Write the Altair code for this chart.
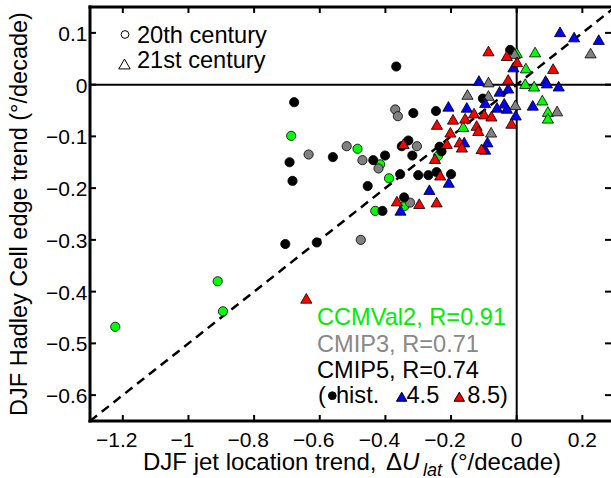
import altair as alt
import pandas as pd

# ---------------- data ----------------
# CCMVal2 (green) 20th-century circles
ccm_c_x = [-1.223, -0.911, -0.895, -0.687, -0.485, -0.416, -0.389, -0.431, -0.343, -0.240]
ccm_c_y = [-0.468, -0.380, -0.438, -0.099, -0.124, -0.154, -0.181, -0.244, -0.235, -0.138]
# CMIP3 (gray) 20th-century circles
cm3_c_x = [-0.634, -0.518, -0.470, -0.421, -0.370, -0.362, -0.304, -0.325, -0.475]
cm3_c_y = [-0.135, -0.119, -0.146, -0.162, -0.048, -0.061, -0.119, -0.228, -0.300]
# CMIP5 historical (black) circles
cm5_h_x = [-0.678, -0.692, -0.683, -0.705, -0.609, -0.367, -0.020, -0.103, -0.315, -0.246,
           -0.330, -0.350, -0.560, -0.401, -0.437, -0.318, -0.235, -0.229, -0.355, -0.300,
           -0.269, -0.244, -0.200, -0.454, -0.343, -0.409]
cm5_h_y = [-0.034, -0.150, -0.186, -0.308, -0.305, 0.035, 0.067, -0.027, -0.055, -0.051,
           -0.108, -0.119, -0.140, -0.137, -0.146, -0.137, -0.120, -0.129, -0.173, -0.175,
           -0.175, -0.169, -0.173, -0.196, -0.218, -0.244]
# CCMVal2 (green) 21st-century triangles
ccm_t_x = [0.000, 0.056, 0.028, 0.026, 0.053, 0.078, 0.095, 0.095, -0.163]
ccm_t_y = [0.062, 0.063, 0.032, 0.002, -0.003, -0.030, -0.052, -0.065, -0.081]
# CMIP3 (gray) 21st-century triangles
cm3_t_x = [-0.006, 0.225, -0.086, -0.150, -0.086, -0.004, 0.123, -0.078]
cm3_t_y = [0.060, 0.061, 0.005, -0.019, -0.021, -0.039, -0.051, -0.092]
# CMIP5 RCP4.5 (blue) triangles
rcp45_x = [0.132, 0.175, 0.250, -0.010, -0.115, 0.088, 0.092, 0.128, -0.052, -0.026,
           -0.208, -0.152, -0.096, -0.060, -0.038, -0.030, -0.003, 0.049, -0.160, -0.089,
           -0.096, -0.207, -0.266, -0.354]
rcp45_y = [0.102, 0.092, 0.087, 0.034, 0.008, 0.008, 0.003, -0.003, -0.013, -0.007,
           -0.042, -0.044, -0.035, -0.044, -0.036, -0.046, -0.059, -0.040, -0.111, -0.111,
           -0.125, -0.189, -0.203, -0.243]
# CMIP5 RCP8.5 (red) triangles
rcp85_x = [-0.086, -0.030, 0.001, 0.111, -0.026, -0.243, -0.194, -0.157, -0.130, -0.099,
           -0.077, -0.016, -0.202, -0.122, -0.117, -0.213, -0.174, -0.167, -0.107, -0.345,
           -0.249, -0.233, -0.365, -0.297, -0.244, -0.641]
rcp85_y = [0.065, 0.056, 0.044, 0.031, 0.010, -0.077, -0.067, -0.065, -0.055, -0.057,
           -0.061, -0.075, -0.092, -0.079, -0.089, -0.114, -0.111, -0.121, -0.124, -0.114,
           -0.143, -0.175, -0.225, -0.230, -0.227, -0.413]

# reference line (slope 0.5)
line_x = [-1.3, 0.3]
line_y = [-0.65, 0.15]

x_ticks = [-1.2, -1.0, -0.8, -0.6, -0.4, -0.2, 0.0, 0.2]
x_tick_labels = ["\u22121.2", "\u22121", "\u22120.8", "\u22120.6", "\u22120.4", "\u22120.2", "0", "0.2"]
y_ticks = [-0.6, -0.5, -0.4, -0.3, -0.2, -0.1, 0.0, 0.1]
y_tick_labels = ["\u22120.6", "\u22120.5", "\u22120.4", "\u22120.3", "\u22120.2", "\u22120.1", "0", "0.1"]

# ---------------- layout / style ----------------
W, H = 521, 414
FONT = "Liberation Sans"
GREEN, GRAY, BLUE, RED = "#00ff00", "#808080", "#0000ff", "#ff0000"
xs = alt.Scale(domain=[-1.3, 0.2873], nice=False, zero=False)
ys = alt.Scale(domain=[-0.65, 0.15], nice=False, zero=False)
one = pd.DataFrame({"a": [0]})
LS = 23.6   # legend text size
TS_ = 24    # axis title size


def points(xv, yv, shape, color, size):
    df = pd.DataFrame({"x": xv, "y": yv})
    return alt.Chart(df).mark_point(
        shape=shape, filled=True, color=color, stroke="black", strokeWidth=0.8,
        size=size, opacity=1
    ).encode(x=alt.X("x:Q", scale=xs, axis=None), y=alt.Y("y:Q", scale=ys, axis=None))


def text(s, x, y, color="black", size=LS, style="normal", align="left"):
    return alt.Chart(one).mark_text(
        text=s, align=align, baseline="alphabetic", font=FONT, fontSize=size,
        fontStyle=style, color=color
    ).encode(x=alt.value(x), y=alt.value(y))


def symbol(shape, x, y, size, fill, filled=True):
    kw = dict(shape=shape, size=size, stroke="black", strokeWidth=1, opacity=1)
    if filled:
        kw.update(filled=True, fill=fill)
    else:
        kw.update(filled=False, fill="white", fillOpacity=1)
    return alt.Chart(one).mark_point(**kw).encode(x=alt.value(x), y=alt.value(y))


xt = pd.DataFrame({"t": x_ticks, "lab": x_tick_labels})
yt = pd.DataFrame({"t": y_ticks, "lab": y_tick_labels})

tick_bottom = alt.Chart(xt).mark_rule(color="black", strokeWidth=2).encode(
    x=alt.X("t:Q", scale=xs, axis=None), y=alt.value(H), y2=alt.value(H - 6))
tick_top = alt.Chart(xt).mark_rule(color="black", strokeWidth=2).encode(
    x=alt.X("t:Q", scale=xs, axis=None), y=alt.value(0), y2=alt.value(6))
tick_left = alt.Chart(yt).mark_rule(color="black", strokeWidth=2).encode(
    y=alt.Y("t:Q", scale=ys, axis=None), x=alt.value(0), x2=alt.value(6))
tick_right = alt.Chart(yt).mark_rule(color="black", strokeWidth=2).encode(
    y=alt.Y("t:Q", scale=ys, axis=None), x=alt.value(W - 6), x2=alt.value(W))

# tick labels (negative ones: digits centred on the tick, minus sign hanging left)
xlab_neg = alt.Chart(xt).transform_filter("datum.t < 0").mark_text(
    align="center", baseline="alphabetic", font=FONT, fontSize=21, color="black", dx=-6
).encode(x=alt.X("t:Q", scale=xs, axis=None), y=alt.value(H + 26), text="lab:N")
xlab_pos = alt.Chart(xt).transform_filter("datum.t >= 0").mark_text(
    align="center", baseline="alphabetic", font=FONT, fontSize=21, color="black"
).encode(x=alt.X("t:Q", scale=xs, axis=None), y=alt.value(H + 26), text="lab:N")
ylab = alt.Chart(yt).mark_text(
    align="right", baseline="alphabetic", font=FONT, fontSize=21, color="black", dy=8
).encode(y=alt.Y("t:Q", scale=ys, axis=None), x=alt.value(-2.5), text="lab:N")

zero_df = pd.DataFrame({"z": [0.0]})
zero_v = alt.Chart(zero_df).mark_rule(color="black", strokeWidth=2).encode(
    x=alt.X("z:Q", scale=xs, axis=None))
zero_h = alt.Chart(zero_df).mark_rule(color="black", strokeWidth=2).encode(
    y=alt.Y("z:Q", scale=ys, axis=None))

dash = alt.Chart(pd.DataFrame({"x": line_x, "y": line_y})).mark_line(
    color="black", strokeWidth=2.5, strokeDash=[9, 6], clip=True
).encode(x=alt.X("x:Q", scale=xs, axis=None), y=alt.Y("y:Q", scale=ys, axis=None))

frame_left = alt.Chart(one).mark_rule(color="black", strokeWidth=3).encode(
    x=alt.value(0), y=alt.value(-1.5), y2=alt.value(H + 1.5))
frame_top = alt.Chart(one).mark_rule(color="black", strokeWidth=3).encode(
    x=alt.value(-1.5), x2=alt.value(W), y=alt.value(0))
frame_bottom = alt.Chart(one).mark_rule(color="black", strokeWidth=3).encode(
    x=alt.value(-1.5), x2=alt.value(W), y=alt.value(H))

CS, TS = 85, 125
layers = [
    zero_v, zero_h, dash,
    points(ccm_c_x, ccm_c_y, "circle", GREEN, CS),
    points(cm3_c_x, cm3_c_y, "circle", GRAY, CS),
    points(cm5_h_x, cm5_h_y, "circle", "black", CS),
    points(ccm_t_x, ccm_t_y, "triangle-up", GREEN, TS),
    points(cm3_t_x, cm3_t_y, "triangle-up", GRAY, TS),
    points(rcp45_x, rcp45_y, "triangle-up", BLUE, TS),
    points(rcp85_x, rcp85_y, "triangle-up", RED, TS),
    tick_bottom, tick_top, tick_left, tick_right,
    frame_left, frame_top, frame_bottom,
    xlab_neg, xlab_pos, ylab,
    # top-left legend
    symbol("circle", 35, 27.5, 60, None, filled=False),
    text("20th century", 47, 35.7),
    symbol("triangle-up", 34.5, 57, 130, None, filled=False),
    text("21st century", 47, 61.3),
    # bottom legend
    text("CCMVal2, R=0.91", 227, 318, color="#00ee00"),
    text("CMIP3, R=0.71", 227, 344.7, color="#888888"),
    text("CMIP5, R=0.74", 227, 370.7),
    text("(", 228, 396.3),
    symbol("circle", 242.3, 388.7, 60, "black"),
    text("hist.", 246, 396.3),
    symbol("triangle-up", 311.7, 389.7, 110, BLUE),
    text("4.5", 316.5, 396.3),
    symbol("triangle-up", 369.3, 389.7, 110, RED),
    text("8.5)", 377.3, 396.3),
    # axis titles
    text("DJF jet location trend,", 53, 462.5, size=TS_),
    text("\u0394", 296, 462.5, size=TS_),
    text("U", 312, 462.5, size=TS_, style="italic"),
    text("lat", 333, 468.5, size=18, style="italic"),
    text("(\u00b0/decade)", 360, 462.5, size=TS_),
    alt.Chart(one).mark_text(
        text="DJF Hadley Cell edge trend (\u00b0/decade)", angle=270, align="center",
        baseline="alphabetic", font=FONT, fontSize=23.5, color="black"
    ).encode(x=alt.value(-63.3), y=alt.value(H / 2)),
]

chart = alt.layer(*layers).properties(
    width=W, height=H,
    padding={"left": 90, "top": 7, "right": 0, "bottom": 57},
    autosize=alt.AutoSizeParams(type="none"),
    background="white",
).configure_view(stroke=None)

chart.save("out.html", embed_options={"renderer": "svg", "actions": False})
